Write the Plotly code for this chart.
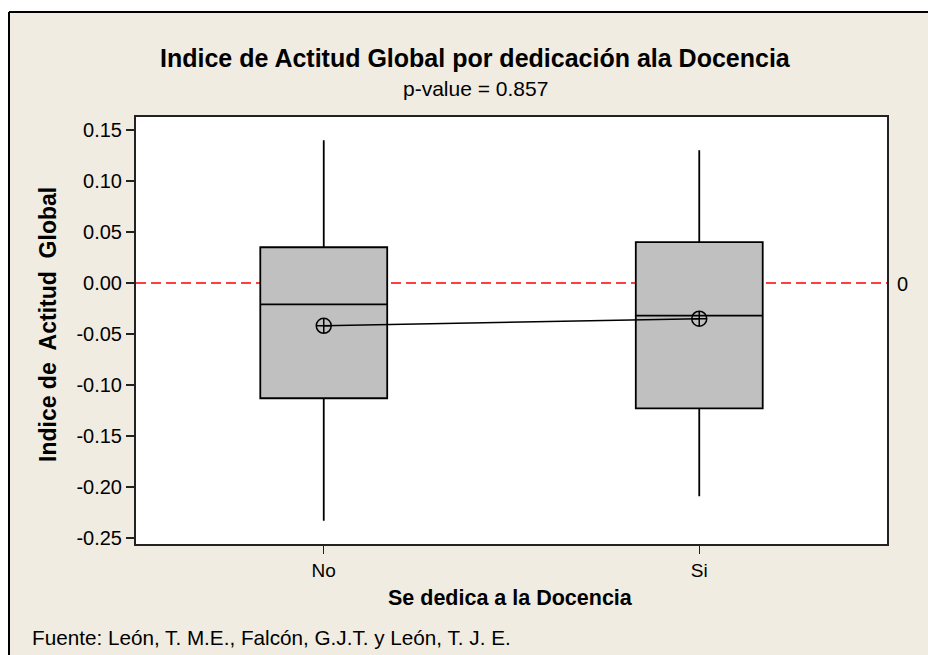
import plotly.graph_objects as go

# ---- data ----
categories = ["No", "Si"]
q1_vals = [-0.113, -0.123]
median_vals = [-0.021, -0.032]
q3_vals = [0.035, 0.040]
lower_vals = [-0.233, -0.209]
upper_vals = [0.140, 0.130]
mean_vals = [-0.042, -0.035]
ref_value = 0.0

y_tickvals = [0.15, 0.10, 0.05, 0.00, -0.05, -0.10, -0.15, -0.20, -0.25]
y_ticktext = ["0.15", "0.10", "0.05", "0.00", "-0.05", "-0.10", "-0.15", "-0.20", "-0.25"]

title_text = "Indice de Actitud Global por dedicación ala Docencia"
subtitle_text = "p-value = 0.857"
x_title = "Se dedica a la Docencia"
y_title = "Indice de\u00a0 Actitud\u00a0 Global"
footer_text = "Fuente: León, T. M.E., Falcón, G.J.T. y León, T. J. E."

# ---- layout geometry (page pixels; body margin removed below) ----
W, H = 928, 655
L, R, T, B = 136, 887, 117, 544          # plot area
FONT = "Liberation Sans, Arial, sans-serif"
BG = "#F0ECE2"


def px(x):
    return (x - L) / (R - L)


def py(y):
    return (B - y) / (B - T)


fig = go.Figure()

fig.add_trace(go.Box(
    x=categories,
    q1=q1_vals, median=median_vals, q3=q3_vals,
    lowerfence=lower_vals, upperfence=upper_vals,
    fillcolor="#C0C0C0",
    line=dict(color="black", width=1.8),
    whiskerwidth=0,
    width=0.338,
    boxpoints=False,
    hoverinfo="skip",
    showlegend=False,
))

fig.add_trace(go.Scatter(
    x=categories, y=mean_vals,
    mode="lines+markers",
    line=dict(color="black", width=1.5),
    marker=dict(symbol="circle-cross-open", size=15, color="black",
                line=dict(color="black", width=1.5)),
    showlegend=False,
    hoverinfo="skip",
))

# reference line at 0
fig.add_shape(type="line", xref="paper", yref="y", x0=0, x1=1,
              y0=ref_value, y1=ref_value, layer="below",
              line=dict(color="#FF0000", width=1.5, dash="10px,5px"))

# white area outside the outer frame
fig.add_shape(type="rect", xref="paper", yref="paper", layer="below",
              x0=px(-2), x1=px(W + 2), y0=py(-2), y1=py(12),
              fillcolor="white", line=dict(width=0))
fig.add_shape(type="rect", xref="paper", yref="paper", layer="below",
              x0=px(-2), x1=px(9), y0=py(-2), y1=py(H + 2),
              fillcolor="white", line=dict(width=0))
# outer frame (top and left edges)
fig.add_shape(type="line", xref="paper", yref="paper",
              x0=px(9), x1=px(W + 5), y0=py(12), y1=py(12),
              line=dict(color="black", width=2))
fig.add_shape(type="line", xref="paper", yref="paper",
              x0=px(9), x1=px(9), y0=py(12), y1=py(H + 5),
              line=dict(color="black", width=2))

ann = []
ann.append(dict(text="<b>" + title_text + "</b>", x=px(475), y=py(58),
                font=dict(size=25, family=FONT, color="black")))
ann.append(dict(text=subtitle_text, x=px(475), y=py(89),
                font=dict(size=21, family=FONT, color="black")))
ann.append(dict(text="<b>" + x_title + "</b>", x=px(510), y=py(598),
                font=dict(size=21.5, family=FONT, color="black")))
ann.append(dict(text="<b>" + y_title + "</b>", x=px(48), y=py(325), textangle=-90,
                font=dict(size=23, family=FONT, color="black")))
ann.append(dict(text=footer_text, x=px(30), y=py(637), xanchor="left",
                font=dict(size=20.7, family=FONT, color="black")))
ann.append(dict(text="0", x=px(903), y=py(284),
                font=dict(size=20, family=FONT, color="black")))

for a in ann:
    a.setdefault("xanchor", "center")
    a.update(xref="paper", yref="paper", yanchor="middle", showarrow=False)

fig.update_layout(
    width=W, height=H,
    margin=dict(l=L, r=W - R, t=T, b=H - B, pad=0),
    paper_bgcolor=BG,
    plot_bgcolor="white",
    annotations=ann,
    font=dict(family=FONT, color="black"),
    showlegend=False,
)

fig.update_xaxes(
    type="category", range=[-0.5, 1.5],
    showgrid=False, zeroline=False,
    showline=True, linecolor="#222", linewidth=2, mirror=True,
    ticks="outside", ticklen=8, tickwidth=1.2, tickcolor="#222",
    tickfont=dict(size=19, family=FONT, color="black"),
)
fig.update_yaxes(
    range=[-0.2559, 0.1627],
    tickvals=y_tickvals, ticktext=y_ticktext,
    showgrid=False, zeroline=False,
    showline=True, linecolor="#222", linewidth=2, mirror=True,
    ticks="outside", ticklen=8, tickwidth=1.2, tickcolor="#222",
    tickfont=dict(size=20, family=FONT, color="black"),
)

fig.write_html(
    "out.html",
    config={"displayModeBar": False, "staticPlot": True},
    post_script="document.body.style.margin='0';"
                "document.body.style.overflow='hidden';"
                "document.documentElement.style.overflow='hidden';",
)
